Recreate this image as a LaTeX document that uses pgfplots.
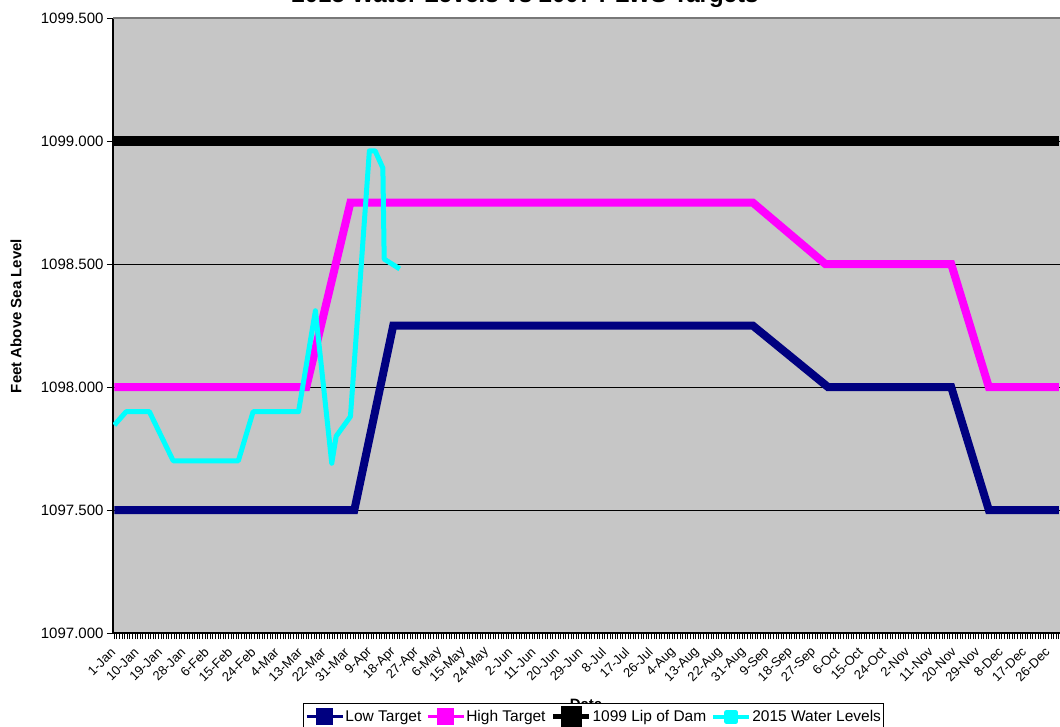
\documentclass[border=0pt]{standalone}
\usepackage{pgfplots}
\pgfplotsset{compat=1.18}
\usepackage{fontspec}
\setmainfont{Liberation Sans}
\definecolor{plotbg}{RGB}{198,198,198}
\definecolor{lownavy}{RGB}{0,0,128}
\definecolor{himag}{RGB}{255,0,255}
\definecolor{wcyan}{RGB}{0,255,255}
\definecolor{topgray}{RGB}{120,120,120}
\begin{document}
\begin{tikzpicture}
\node[anchor=base, font=\bfseries\fontsize{24}{28}\selectfont] at (525pt,-2.5pt) {2015 Water Levels vs 2007 PLWS Targets};
\node[rotate=90, font=\bfseries\fontsize{15}{18}\selectfont] at (16pt,-316pt) {Feet Above Sea Level};
\node[anchor=north, font=\bfseries\fontsize{15}{18}\selectfont] at (586pt,-696pt) {Date};
\begin{axis}[
  at={(113pt,-633pt)}, anchor=south west,
  scale only axis, width=949pt, height=615pt,
  xmin=-0.5, xmax=365.2, ymin=1097, ymax=1099.5,
  axis background/.style={fill=plotbg},
  axis x line*=bottom, axis y line*=left,
  axis line style={black, line width=1.2pt, -},
  ytick={1097,1097.5,1098,1098.5,1099,1099.5},
  ymajorgrids, grid style={black, line width=1pt},
  /pgf/number format/assume math mode=true,
  yticklabel style={/pgf/number format/fixed, /pgf/number format/fixed zerofill, /pgf/number format/precision=3, /pgf/number format/1000 sep={}, font=\fontsize{15}{18}\selectfont},
  xtick={0,9,...,360},
  xticklabels={1-Jan,10-Jan,19-Jan,28-Jan,6-Feb,15-Feb,24-Feb,4-Mar,13-Mar,22-Mar,31-Mar,9-Apr,18-Apr,27-Apr,6-May,15-May,24-May,2-Jun,11-Jun,20-Jun,29-Jun,8-Jul,17-Jul,26-Jul,4-Aug,13-Aug,22-Aug,31-Aug,9-Sep,18-Sep,27-Sep,6-Oct,15-Oct,24-Oct,2-Nov,11-Nov,20-Nov,29-Nov,8-Dec,17-Dec,26-Dec},
  xticklabel style={rotate=45, anchor=east, inner sep=0.5pt, xshift=-8pt, yshift=-7pt, font=\fontsize{13}{15}\selectfont},
  minor xtick={0,1,...,364},
  tick align=outside, major tick length=6pt, minor tick length=6pt,
  every tick/.style={black, line width=0.9pt},
  legend style={at={(0.2002,-0.1138)}, anchor=north west, draw=black, line width=1pt, fill=white,
    font=\fontsize{15.5}{19}\selectfont, legend columns=4,
    /tikz/every even column/.append style={column sep=4pt},
    inner xsep=2pt, inner ysep=3pt, nodes={inner sep=1pt}},
  legend cell align=left,
  after end axis/.code={\draw[topgray, line width=1.5pt] (rel axis cs:0,1) -- (rel axis cs:1,1);},
]
\addplot[lownavy, line width=8pt, line join=miter,
  legend image code/.code={\draw[lownavy, line width=3pt] (0pt,0pt) -- (36pt,0pt); \fill[lownavy] (13.5pt,-4.5pt) rectangle (22.5pt,4.5pt);}]
  coordinates {(0,1097.5) (92.5,1097.5) (107.5,1098.25) (246,1098.25) (275,1098.0) (322.5,1098.0) (337,1097.5) (364,1097.5)};
\addlegendentry{Low Target}
\addplot[himag, line width=8pt, line join=miter,
  legend image code/.code={\draw[himag, line width=3pt] (0pt,0pt) -- (36pt,0pt); \fill[himag] (13.5pt,-4.5pt) rectangle (22.5pt,4.5pt);}]
  coordinates {(0,1098.0) (74,1098.0) (91,1098.75) (246,1098.75) (274,1098.5) (322.5,1098.5) (337,1098.0) (364,1098.0)};
\addlegendentry{High Target}
\addplot[black, line width=10pt,
  legend image code/.code={\draw[black, line width=5pt] (0pt,0pt) -- (36pt,0pt); \fill[black] (12.5pt,-5.5pt) rectangle (23.5pt,5.5pt);}]
  coordinates {(0,1099.0) (364,1099.0)};
\addlegendentry{1099 Lip of Dam}
\addplot[wcyan, line width=5pt, line join=round,
  legend image code/.code={\draw[wcyan, line width=4pt] (0pt,0pt) -- (36pt,0pt); \fill[wcyan] (13.5pt,-4.5pt) rectangle (22.5pt,4.5pt);}]
  coordinates {(0,1097.845) (4.6,1097.90) (13.5,1097.90) (22.7,1097.70) (47.8,1097.70) (53.5,1097.90) (71,1097.90) (77.5,1098.31) (83.8,1097.69) (85.5,1097.80) (91,1097.88) (98.3,1098.96) (100.5,1098.96) (103.5,1098.89) (104,1098.52) (110,1098.48)};
\addlegendentry{2015 Water Levels}
\end{axis}
\pgfresetboundingbox
\path[use as bounding box] (0pt,0pt) rectangle (1060pt,-726pt);
\end{tikzpicture}
\end{document}
